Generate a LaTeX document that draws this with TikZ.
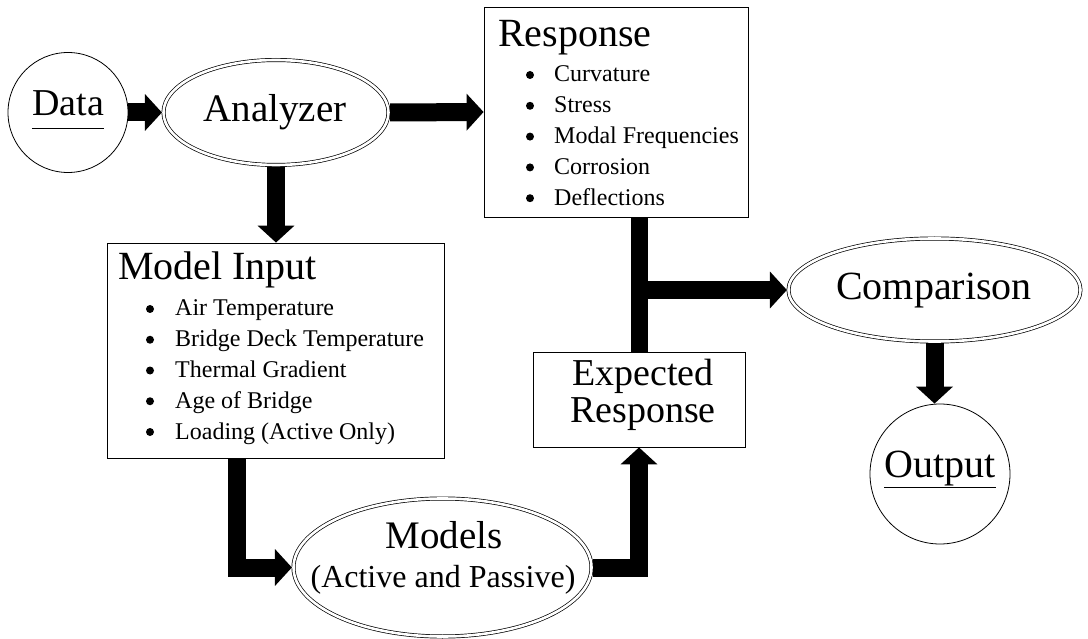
\documentclass[tikz,border=0pt]{standalone}
\usepackage{fontspec}
\setmainfont{Liberation Serif}
\usetikzlibrary{arrows.meta,shapes.geometric}
\newcommand{\fsz}[1]{\fontsize{#1}{#1}\selectfont}
\begin{document}
\begin{tikzpicture}[x=1pt,y=-1pt,
  dell/.style={ellipse,draw,double,double distance=2.6pt,line width=0.7pt,inner sep=0pt,outer sep=1.6pt},
  circ/.style={circle,draw,line width=0.8pt,inner sep=0pt},
  boxn/.style={rectangle,draw,line width=0.8pt,inner sep=0pt},
  bigarrow/.style={line width=18pt,-{Triangle[width=36pt,length=17pt]},line join=miter},
  bar/.style={line width=17pt},
  txt/.style={anchor=base,inner sep=0pt},
  item/.style={anchor=base west,inner sep=0pt,font=\fsz{24}},
  bul/.style={circle,fill,inner sep=0pt,minimum size=8pt},
  uline/.style={line width=0.8pt}
]
\fill[white] (0,0) rectangle (1088,639);
\useasboundingbox (0,0) rectangle (1088,639);

% shapes
\node[circ,minimum size=120pt] (data) at (68,112.5) {};
\node[dell,minimum width=225pt,minimum height=105pt] (analyzer) at (276,112.5) {};
\node[boxn,minimum width=264pt,minimum height=210pt] (resp) at (616,112) {};
\node[boxn,minimum width=337pt,minimum height=215pt] (minput) at (275.5,350.5) {};
\node[dell,minimum width=298pt,minimum height=138pt] (models) at (442.5,567.5) {};
\node[boxn,minimum width=212pt,minimum height=95pt] (expected) at (639,399.5) {};
\node[dell,minimum width=292pt,minimum height=103pt] (comparison) at (934.5,290) {};
\node[circ,minimum size=140pt] (output) at (940,474) {};

% texts
\node[txt,font=\fsz{38}] (dtxt) at (68,116) {Data};
\draw[uline] ([yshift=-12pt]dtxt.base west) -- ([yshift=-12pt]dtxt.base east);
\node[txt,font=\fsz{39}] (atxt) at (275,122) {Analyzer};
\node[txt,font=\fsz{40},anchor=base west] (rtxt) at (498,47) {Response};
\foreach \t [count=\i] in {Curvature,Stress,Modal Frequencies,Corrosion,Deflections} {
  \node[bul] (rb\i) at (530,{82+30.8*(\i-1)-7}) {};
  \node[item] (ri\i) at (554,{82+30.8*(\i-1)}) {\t};
}
\node[txt,font=\fsz{40},anchor=base west] (mtxt) at (118,280) {Model Input};
\foreach \t [count=\i] in {Air Temperature,Bridge Deck Temperature,Thermal Gradient,Age of Bridge,Loading (Active Only)} {
  \node[bul] (mb\i) at (150,{316+30.75*(\i-1)-7}) {};
  \node[item] (mi\i) at (175,{316+30.75*(\i-1)}) {\t};
}
\node[txt,font=\fsz{38}] (etxt1) at (643,385) {Expected};
\node[txt,font=\fsz{38}] (etxt2) at (643,422) {Response};
\node[txt,font=\fsz{39}] (mdtxt1) at (444,548) {Models};
\node[txt,font=\fsz{32}] (mdtxt2) at (443,587) {(Active and Passive)};
\node[txt,font=\fsz{40}] (ctxt) at (934,300) {Comparison};
\node[txt,font=\fsz{40}] (otxt) at (940,477) {Output};
\draw[uline] ([yshift=-10pt]otxt.base west) -- ([yshift=-10pt]otxt.base east);

% connectors
\draw[bigarrow] (data.east) -- (analyzer.west);
\draw[bigarrow] (analyzer.east) -- (resp.west);
\draw[bigarrow] (analyzer.south) -- (analyzer.south |- minput.north);
\draw[bigarrow] ([xshift=-38.5pt]minput.south) |- (models.west);
\draw[bigarrow] (models.east) -| (expected.south);
\draw[bar] (expected.north |- resp.south) -- (expected.north);
\coordinate (junc) at (expected.north |- comparison.west);
\draw[bigarrow] (junc) -- (comparison.west);
\draw[bigarrow] (comparison.south) -- (comparison.south |- output.north);
\end{tikzpicture}
\end{document}
